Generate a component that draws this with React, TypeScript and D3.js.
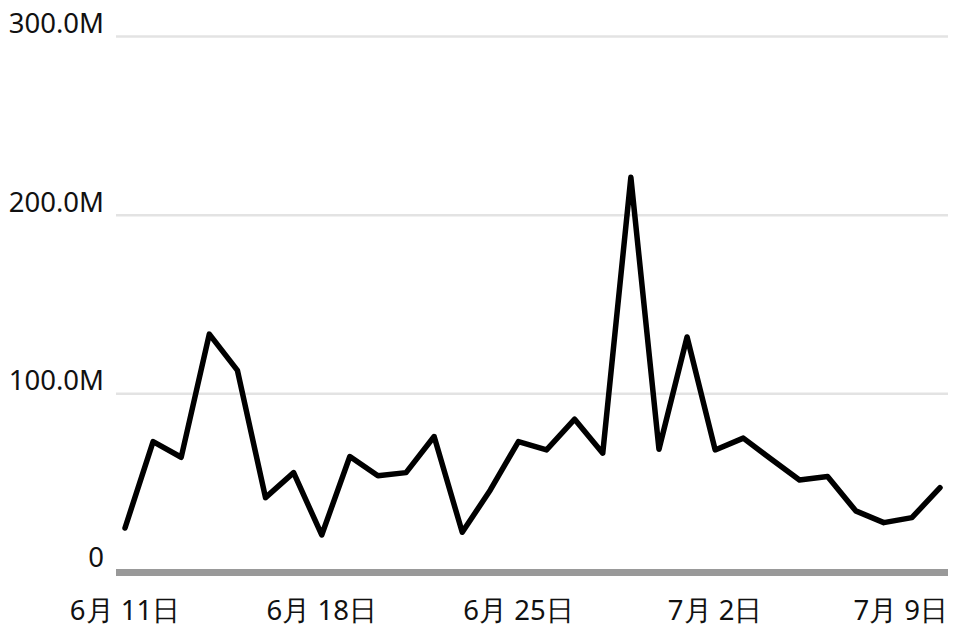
import React from "react";
import * as d3 from "d3";

const dates: string[] = [
  "2023-06-11","2023-06-12","2023-06-13","2023-06-14","2023-06-15","2023-06-16","2023-06-17",
  "2023-06-18","2023-06-19","2023-06-20","2023-06-21","2023-06-22","2023-06-23","2023-06-24",
  "2023-06-25","2023-06-26","2023-06-27","2023-06-28","2023-06-29","2023-06-30","2023-07-01",
  "2023-07-02","2023-07-03","2023-07-04","2023-07-05","2023-07-06","2023-07-07","2023-07-08",
  "2023-07-09","2023-07-10",
];
const values: number[] = [
  24.9, 73.3, 64.5, 133.4, 113.1, 41.9, 55.9,
  21.0, 64.9, 54.1, 55.9, 76.1, 22.5, 46.2,
  73.3, 68.6, 85.8, 66.8, 221.2, 69.0, 131.8,
  68.6, 75.2, 63.4, 51.8, 53.7, 34.5, 27.9,
  30.7, 47.5,
].map((v) => v * 1e6);
const yTicks: number[] = [0, 100e6, 200e6, 300e6];
const yTickLabels: string[] = ["0", "100.0M", "200.0M", "300.0M"];
const xTickDates: string[] = ["2023-06-11", "2023-06-18", "2023-06-25", "2023-07-02", "2023-07-09"];

const W = 953;
const H = 631;
const FONT = "'Noto Sans', 'Open Sans', sans-serif";
const FS = 27.5;

export default function App() {
  const parse = d3.utcParse("%Y-%m-%d");
  const pts = dates.map((d, i) => ({ date: parse(d) as Date, value: values[i] }));
  const x = d3
    .scaleUtc()
    .domain(d3.extent(pts, (p) => p.date) as [Date, Date])
    .range([125, 940]);
  const y = d3.scaleLinear().domain([0, 300e6]).range([572.5, 36.5]);
  const line = d3
    .line<{ date: Date; value: number }>()
    .x((p) => x(p.date))
    .y((p) => y(p.value));
  const gridX0 = 116;
  const gridX1 = 948;

  return (
    <svg
      width={W}
      height={H}
      style={{ position: "absolute", left: 0, top: 0, background: "#fff" }}
    >
      {yTicks.map((t, i) =>
        t === 0 ? null : (
          <line
            key={"g" + i}
            x1={gridX0}
            x2={gridX1}
            y1={y(t)}
            y2={y(t)}
            stroke="#e3e3e3"
            strokeWidth={2.5}
          />
        )
      )}
      <line x1={gridX0} x2={gridX1} y1={y(0)} y2={y(0)} stroke="#999999" strokeWidth={7} />
      {yTicks.map((t, i) => (
        <text
          key={"yl" + i}
          x={104}
          y={y(t) - (t === 0 ? 6 : 3.5)}
          textAnchor="end"
          fontFamily={FONT}
          fontSize={FS}
          fill="#111"
        >
          {yTickLabels[i]}
        </text>
      ))}
      {xTickDates.map((d, i) => {
        const dt = parse(d) as Date;
        const label = `${dt.getUTCMonth() + 1}月 ${dt.getUTCDate()}日`;
        const last = i === xTickDates.length - 1;
        return (
          <text
            key={"xl" + i}
            x={last ? 948 : x(dt)}
            y={620}
            textAnchor={last ? "end" : "middle"}
            fontFamily={FONT}
            fontSize={FS}
            fill="#111"
          >
            {label}
          </text>
        );
      })}
      <path
        d={line(pts) || ""}
        fill="none"
        stroke="#000"
        strokeWidth={5.5}
        strokeLinejoin="round"
        strokeLinecap="round"
      />
    </svg>
  );
}
